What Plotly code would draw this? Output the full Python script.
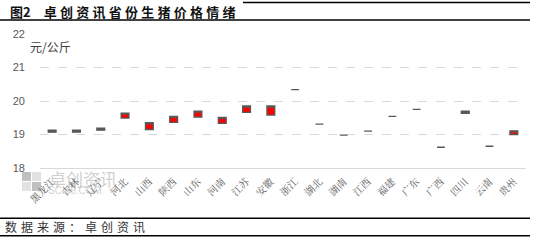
import plotly.graph_objects as go

provinces = ["黑龙江", "吉林", "辽宁", "河北", "山西", "陕西", "山东", "河南", "江苏", "安徽",
             "浙江", "湖北", "湖南", "江西", "福建", "广东", "广西", "四川", "云南", "贵州"]
price_open = [19.07, 19.07, 19.13, 19.49, 19.15, 19.36, 19.52, 19.33, 19.66, 19.58,
              20.34, 19.31, 18.98, 19.10, 19.54, 19.75, 18.62, 19.63, 18.65, 19.00]
price_close = [19.13, 19.13, 19.19, 19.64, 19.35, 19.54, 19.70, 19.51, 19.85, 19.85,
               20.34, 19.31, 18.98, 19.10, 19.54, 19.75, 18.62, 19.70, 18.65, 19.11]
y_ticks = [18, 19, 20, 21, 22]

W, H = 536, 241
L, R, T, B = 40, 10, 33.5, 73
PW, PH = W - L - R, H - T - B


def px(x):
    return (x - L) / PW


def py(y):
    return (H - B - y) / PH


def spaced(s, sep):
    return sep.join(list(s))


fig = go.Figure()
fig.add_trace(go.Candlestick(
    x=provinces,
    open=price_open,
    close=price_close,
    high=[max(a, b) for a, b in zip(price_open, price_close)],
    low=[min(a, b) for a, b in zip(price_open, price_close)],
    increasing=dict(fillcolor="#ff0000", line=dict(color="#595959", width=1.3)),
    decreasing=dict(fillcolor="#ff0000", line=dict(color="#595959", width=1.3)),
    whiskerwidth=0,
    showlegend=False,
))

fig.update_layout(
    width=W, height=H,
    margin=dict(l=L, r=R, t=T, b=B),
    paper_bgcolor="white", plot_bgcolor="white",
    boxgap=0.54,
    font=dict(family="Noto Sans CJK SC, Liberation Sans", color="#595959"),
    xaxis=dict(
        type="category",
        rangeslider=dict(visible=False),
        showline=True, linecolor="#d9d9d9", linewidth=1,
        showgrid=False, ticks="",
        tickangle=-45,
        ticklabelstandoff=3,
        tickfont=dict(size=10, color="#595959", family="Noto Serif CJK SC, Noto Sans CJK SC"),
    ),
    yaxis=dict(
        range=[18, 22],
        tickvals=y_ticks,
        ticktext=[str(v) for v in y_ticks],
        showgrid=True, gridcolor="#d9d9d9", griddash="dash", gridwidth=1,
        zeroline=False, showline=False,
        ticklabelstandoff=14,
        tickfont=dict(size=11, color="#595959", family="Liberation Sans"),
    ),
)

# title
fig.add_annotation(
    text="<b>图2\u2003" + spaced("卓创资讯省份生猪价格情绪", "\u2005") + "</b>",
    xref="paper", yref="paper", x=px(8), y=py(11), xanchor="left", yanchor="middle",
    showarrow=False, font=dict(size=13, color="#111111", family="Noto Sans CJK SC"),
)
# unit label
fig.add_annotation(
    text="元/公斤", xref="paper", yref="paper", x=px(28), y=py(46),
    xanchor="left", yanchor="middle", showarrow=False,
    font=dict(size=12, color="#404040", family="Noto Sans CJK SC"),
)
# footer
fig.add_annotation(
    text=spaced("数据来源：卓创资讯", "\u2004"),
    xref="paper", yref="paper", x=px(3), y=py(227), xanchor="left", yanchor="middle",
    showarrow=False, font=dict(size=12, color="#333333", family="Noto Sans CJK SC"),
)
# watermark
fig.add_annotation(
    text="卓创资讯", xref="paper", yref="paper", x=px(47), y=py(179),
    xanchor="left", yanchor="middle", showarrow=False,
    font=dict(size=17, color="rgba(160,160,160,0.5)", family="Noto Sans CJK SC"),
)
fig.add_annotation(
    text="SCI99.COM", xref="paper", yref="paper", x=px(46), y=py(191),
    xanchor="left", yanchor="middle", showarrow=False,
    font=dict(size=10, color="rgba(160,160,160,0.5)", family="Liberation Sans"),
)
for (x0, y0, c) in [(22, 172, 0.55), (32, 172, 0.25), (22, 182, 0.25), (32, 182, 0.55)]:
    fig.add_shape(type="rect", xref="paper", yref="paper",
                  x0=px(x0), x1=px(x0 + 9), y0=py(y0), y1=py(y0 + 9),
                  line=dict(width=0), fillcolor=f"rgba(140,140,140,{c})")

# frame lines
lines = [(243, 2, 530, 1.5), (0, 19.5, 530, 1.5), (0, 218.5, 530, 1.5), (0, 236, 530, 1.5)]
for x0, yy, x1, w in lines:
    fig.add_shape(type="line", xref="paper", yref="paper",
                  x0=px(x0), x1=px(x1), y0=py(yy), y1=py(yy),
                  line=dict(color="black", width=w))

fig.write_html("out.html")
